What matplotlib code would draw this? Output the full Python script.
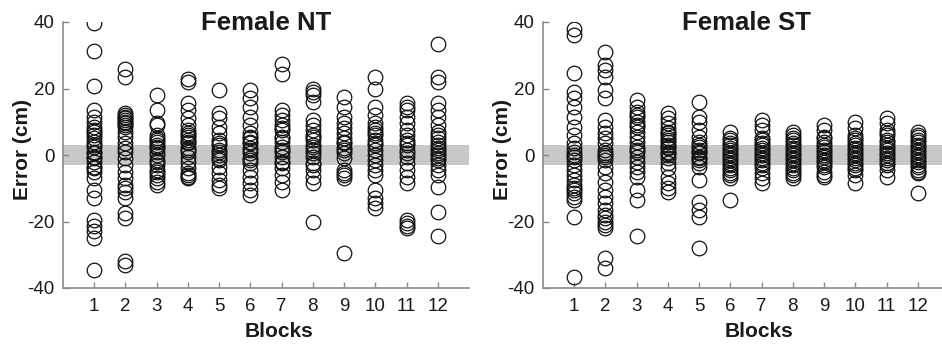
import matplotlib
matplotlib.use("Agg")
import matplotlib.pyplot as plt

plt.rcParams['font.family'] = ['Liberation Sans', 'DejaVu Sans']
plt.rcParams['axes.unicode_minus'] = False

blocks = list(range(1, 13))

nt_values = [
    [39.6, 31.3, 20.8, 13.5, 11.5, 10, 8.5, 7.5, 7, 6, 5, 4, 3, 2.5, 1, 0.5, -0.5, -1, -2, -3.5, -4, -5, -7, -10.5, -13, -19.5, -21.5, -23, -25, -34.5],
    [26, 23.5, 12.5, 12, 11.5, 11, 10.5, 10, 9.5, 9, 8.5, 7, 5.5, 3.5, 2, 1, -1, -3, -5, -7, -9, -10, -11, -13, -17.5, -19, -32, -33],
    [18, 13.5, 9.5, 9, 6, 5, 4.5, 4, 3, 2.5, 2, 1, 0, -1.5, -2, -3, -4.5, -5, -6, -7, -8, -9],
    [23, 22, 15.5, 13.5, 11, 9, 7.5, 6.5, 6, 5.5, 4.5, 4, 3.5, 2, 1.5, 1, -0.5, -2, -4, -5.5, -6, -6.5, -7],
    [19.5, 12.5, 11, 8.5, 6.5, 4.5, 3.5, 3, 1.5, 1, 0, -1, -1.5, -3.5, -5.5, -7.5, -9, -10],
    [19.5, 17, 14.5, 11.5, 9, 6.5, 5.5, 5, 4, 3.5, 2, 1.5, 0.5, -1, -1.5, -2.5, -4.5, -6.5, -8.5, -10.5, -12],
    [27.5, 24.5, 13.5, 12, 10.5, 9, 8, 7.5, 5.5, 5, 4, 2.5, 1.5, 1, -0.5, -2, -2.5, -4, -6, -8, -10.5],
    [20, 19, 18, 16, 10.5, 9, 7.5, 6, 5.5, 4.5, 3, 2.5, 1.5, 0.5, -0.5, -2.5, -3, -4.5, -6.5, -8.5, -20],
    [17.5, 14.5, 11.5, 9.5, 8, 6.5, 5, 4, 3.5, 2, 1.5, 0.5, -1, -4.5, -5.5, -6, -7, -29.5],
    [23.5, 20, 14.5, 12, 9.5, 8.5, 7.5, 6.5, 6, 4.5, 3.5, 3, 1.5, 0, -1.5, -3, -4.5, -6, -10.5, -13, -14.5, -16],
    [15.5, 14.5, 13.5, 11.5, 9.5, 7.5, 6, 4.5, 3.5, 3, 1.5, 0.5, -0.5, -2.5, -4.5, -6.5, -8.5, -19.5, -20.5, -21.5, -22],
    [33.5, 23.5, 22, 15.5, 13.5, 11.5, 9, 7, 6, 5, 4, 3, 2, 1.5, 0.5, 0, -1, -1.5, -3, -4.5, -6, -9.5, -17, -24.5],
]

st_values = [
    [38, 36, 24.6, 19, 17, 14.5, 11.5, 8.5, 6, 3.5, 2, 1, 0, -0.5, -1.5, -3, -4.5, -6, -7.5, -9, -10, -10.5, -11.5, -12.5, -13.5, -18.5, -36.6],
    [31, 27, 25.5, 23.5, 19.5, 17, 10.5, 8.5, 6.5, 5, 3.5, 1.5, 0.5, 0, -0.5, -1.5, -3.5, -5.5, -8, -10.5, -12.5, -14.5, -16.5, -18, -19, -20, -21, -22, -31, -34],
    [16.5, 14.5, 13, 12, 11.5, 10, 9, 8.5, 7, 5.5, 4, 2.5, 1.5, 1, -0.5, -2, -3.5, -5, -6.5, -10.5, -13.5, -24.5],
    [12.5, 11, 9.5, 8, 7, 6.5, 6, 5, 4.5, 4, 3, 2.5, 2, 1, 0.5, 0, -1, -2.5, -4, -6.5, -8.5, -10, -11],
    [16, 11.5, 10, 7.5, 5.5, 4, 3, 2.5, 1.5, 1, 0.5, -0.5, -1, -1.5, -2.5, -3.5, -7.5, -14, -16.5, -18.5, -28],
    [7, 5, 4.5, 3.5, 3, 2, 1.5, 0.5, 0, -1, -1.5, -2.5, -3, -4, -4.5, -5.5, -6, -7, -13.5],
    [10.5, 9, 7.5, 5, 4.5, 3.5, 3, 2, 1.5, 0.5, 0, -1, -1.5, -2.5, -3, -4, -5.5, -7, -8.5],
    [7, 6, 5, 4.5, 3.5, 3, 2, 1.5, 0.5, 0, -1, -1.5, -2.5, -3, -4, -4.5, -5.5, -6, -7],
    [9, 7.5, 5.5, 5, 4, 3, 2.5, 1.5, 1, 0, -0.5, -1.5, -2, -3, -3.5, -5, -6, -6.5],
    [10, 8, 6, 5, 4.5, 3.5, 3, 2, 1.5, 0.5, 0, -1, -1.5, -2.5, -3, -4, -4.5, -6, -8.5],
    [11, 9.5, 7.5, 6.5, 6, 4.5, 4, 3, 2, 1.5, 0.5, 0, -1, -1.5, -2.5, -3, -4.5, -6.5],
    [7, 6, 5.5, 4.5, 4, 3, 2.5, 1.5, 1, 0, -0.5, -1.5, -2, -3, -3.5, -4.5, -5, -5.5, -11.5],
]

titles = ["Female NT", "Female ST"]
y_ticks = [-40, -20, 0, 20, 40]
band_lo, band_hi = -3, 3

fig = plt.figure(figsize=(9.42, 3.49), dpi=100)
W, H = 942, 349
positions = [
    [63 / W, (H - 288) / H, 406 / W, 266 / H],
    [543 / W, (H - 288) / H, 406 / W, 266 / H],
]

spine_col = '#8a8a8a'
for pos, title, data in zip(positions, titles, [nt_values, st_values]):
    ax = fig.add_axes(pos)
    ax.axhspan(band_lo, band_hi, color='#c8c8c8', zorder=0, lw=0)
    for b, vals in zip(blocks, data):
        ax.plot([b] * len(vals), vals, linestyle='none', marker='o', ms=10.5,
                mfc='none', mec='#111111', mew=0.9, zorder=3)
    ax.set_xlim(0, 13)
    ax.set_ylim(-40, 40)
    ax.set_xticks(blocks)
    ax.set_yticks(y_ticks)
    ax.tick_params(direction='in', length=4, width=1, color=spine_col,
                   labelsize=13.5, labelcolor='#1a1a1a')
    ax.tick_params(axis='y', pad=6)
    ax.tick_params(axis='x', pad=7)
    for s in ['top', 'right']:
        ax.spines[s].set_visible(False)
    for s in ['left', 'bottom']:
        ax.spines[s].set_color(spine_col)
        ax.spines[s].set_linewidth(1.2)
    ax.set_ylabel('Error (cm)', fontsize=15, fontweight='bold', color='#1a1a1a')
    ax.yaxis.set_label_coords(-0.0764, 0.519)
    ax.set_xlabel('Blocks', fontsize=15, fontweight='bold', color='#1a1a1a')
    ax.xaxis.set_label_coords(0.532, -0.126)
    ax.text(0.5, 0.97, title, transform=ax.transAxes, ha='center', va='baseline',
            fontsize=18.5, fontweight='bold', color='#1a1a1a')

fig.savefig('out.png', dpi=100, facecolor='white')
